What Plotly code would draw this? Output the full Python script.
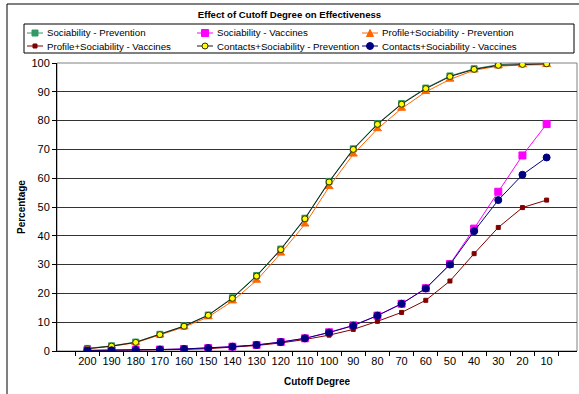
import plotly.graph_objects as go

# Cutoff degree categories (x axis, descending)
cutoff = ["200", "190", "180", "170", "160", "150", "140", "130", "120", "110",
          "100", "90", "80", "70", "60", "50", "40", "30", "20", "10"]

# Percentage effectiveness per strategy
soc_prev = [0.9, 1.8, 3.1, 5.8, 8.7, 12.5, 18.5, 26.2, 35.4, 46.1,
            58.9, 70.2, 78.9, 85.9, 91.3, 95.5, 98.0, 99.4, 99.9, 100.0]
soc_vacc = [0.2, 0.25, 0.35, 0.5, 0.7, 1.0, 1.5, 2.1, 3.1, 4.4,
            6.5, 8.9, 12.3, 16.4, 21.8, 30.2, 42.5, 55.3, 67.9, 78.8]
prof_prev = [0.8, 1.6, 2.9, 5.5, 8.3, 11.8, 17.3, 24.5, 33.9, 44.0,
             57.0, 68.3, 77.1, 84.2, 90.0, 94.3, 97.5, 98.9, 99.3, 99.4]
prof_vacc = [0.15, 0.2, 0.3, 0.4, 0.55, 0.8, 1.3, 1.9, 2.8, 4.0,
             5.5, 7.5, 10.3, 13.4, 17.6, 24.3, 33.8, 42.9, 49.8, 52.4]
cont_prev = [0.8, 1.7, 3.0, 5.7, 8.6, 12.4, 18.3, 26.0, 35.2, 45.9,
             58.7, 70.0, 78.7, 85.7, 91.1, 95.3, 97.8, 99.2, 99.5, 99.7]
cont_vacc = [0.2, 0.25, 0.35, 0.5, 0.7, 1.0, 1.5, 2.1, 3.1, 4.4,
             6.4, 8.8, 12.3, 16.4, 21.7, 30.0, 41.6, 52.4, 61.2, 67.2]

y_ticks = [0, 10, 20, 30, 40, 50, 60, 70, 80, 90, 100]

FONT = "Liberation Sans, Arial, sans-serif"
W, H = 579, 394
ML, MR, MT, MB = 57, 2, 63, 43
PW, PH = W - ML - MR, H - MT - MB


def px_x(px):
    return (px - ML) / PW


def px_y(py):
    return 1 - (py - MT) / PH


series = [
    dict(name="Sociability - Prevention", y=soc_prev, color="#339966",
         mcolor="#339966", mline="#339966", symbol="square", size=6),
    dict(name="Sociability - Vaccines", y=soc_vacc, color="#FF00FF",
         mcolor="#FF00FF", mline="#FF00FF", symbol="square", size=7),
    dict(name="Profile+Sociability - Prevention", y=prof_prev, color="#FF6600",
         mcolor="#FF6600", mline="#FF6600", symbol="triangle-up", size=7),
    dict(name="Profile+Sociability - Vaccines", y=prof_vacc, color="#800000",
         mcolor="#800000", mline="#800000", symbol="square", size=4),
    dict(name="Contacts+Sociability - Prevention", y=cont_prev, color="#1a1a1a",
         mcolor="#FFFF00", mline="#333300", symbol="circle", size=6),
    dict(name="Contacts+Sociability - Vaccines", y=cont_vacc, color="#000080",
         mcolor="#000080", mline="#000080", symbol="circle", size=7),
]

fig = go.Figure()
for s in series:
    fig.add_trace(go.Scatter(
        x=cutoff, y=s["y"], name=s["name"], mode="lines+markers",
        line=dict(color=s["color"], width=1),
        marker=dict(symbol=s["symbol"], size=s["size"], color=s["mcolor"],
                    line=dict(color=s["mline"], width=1)),
        showlegend=False,
    ))

shapes = []
annotations = []

# outer chart frame
shapes.append(dict(type="rect", xref="paper", yref="paper",
                   x0=px_x(7), x1=px_x(584), y0=px_y(400), y1=px_y(4),
                   line=dict(color="black", width=1), layer="below"))
# plot area frame
shapes.append(dict(type="rect", xref="paper", yref="paper",
                   x0=0, x1=1, y0=0, y1=1,
                   line=dict(color="#808080", width=1), layer="below"))

# legend box
shapes.append(dict(type="rect", xref="paper", yref="paper",
                   x0=px_x(24), x1=px_x(574), y0=px_y(53), y1=px_y(24),
                   line=dict(color="black", width=1), fillcolor="white",
                   layer="above"))

col_x = [27, 197, 362]
row_y = [33, 46]
for i, s in enumerate(series):
    cx = col_x[i % 3]
    cy = row_y[i // 3]
    shapes.append(dict(type="line", xref="paper", yref="paper",
                       x0=px_x(cx), x1=px_x(cx + 16), y0=px_y(cy), y1=px_y(cy),
                       line=dict(color=s["color"], width=1), layer="above"))
    hs = s["size"] / 2
    common = dict(xref="paper", yref="paper", xsizemode="pixel", ysizemode="pixel",
                  xanchor=px_x(cx + 8), yanchor=px_y(cy),
                  fillcolor=s["mcolor"], line=dict(color=s["mline"], width=1),
                  layer="above")
    if s["symbol"] == "square":
        shapes.append(dict(type="rect", x0=-hs, x1=hs, y0=-hs, y1=hs, **common))
    elif s["symbol"] == "circle":
        shapes.append(dict(type="circle", x0=-hs, x1=hs, y0=-hs, y1=hs, **common))
    else:
        shapes.append(dict(type="path",
                           path=f"M {-hs},{-hs} L {hs},{-hs} L 0,{hs} Z", **common))
    annotations.append(dict(xref="paper", yref="paper", x=px_x(cx + 18), y=px_y(cy),
                            xanchor="left", yanchor="middle", showarrow=False,
                            text=s["name"], font=dict(family=FONT, size=9.7, color="black")))

# axis titles
annotations.append(dict(xref="paper", yref="paper", x=px_x(21), y=0.5,
                        xanchor="center", yanchor="middle", showarrow=False,
                        textangle=-90, text="<b>Percentage</b>",
                        font=dict(family=FONT, size=10, color="black")))
annotations.append(dict(xref="paper", yref="paper", x=0.5, y=px_y(381),
                        xanchor="center", yanchor="middle", showarrow=False,
                        text="<b>Cutoff Degree</b>",
                        font=dict(family=FONT, size=10, color="black")))

fig.update_layout(
    width=W, height=H,
    margin=dict(l=ML, r=MR, t=MT, b=MB),
    paper_bgcolor="white", plot_bgcolor="white",
    title=dict(text="<b>Effect of Cutoff Degree on Effectiveness</b>",
               x=0.5, xref="container", xanchor="center",
               y=1 - 15 / H, yref="container", yanchor="middle",
               font=dict(family=FONT, size=9.6, color="black")),
    shapes=shapes, annotations=annotations,
    showlegend=False,
)
fig.update_xaxes(
    type="category", showgrid=False, showline=True, linecolor="black", linewidth=1,
    ticks="outside", tickson="boundaries", ticklen=4, tickcolor="black",
    tickangle=0,
    tickfont=dict(family=FONT, size=11, color="black"),
)
fig.update_yaxes(
    range=[0, 100], tickvals=y_ticks, showgrid=True, gridcolor="#333333", gridwidth=1,
    zeroline=False, showline=True, linecolor="black", linewidth=1,
    ticks="outside", ticklen=4, tickcolor="black",
    tickfont=dict(family=FONT, size=11, color="black"),
)

fig.write_html("out.html")
